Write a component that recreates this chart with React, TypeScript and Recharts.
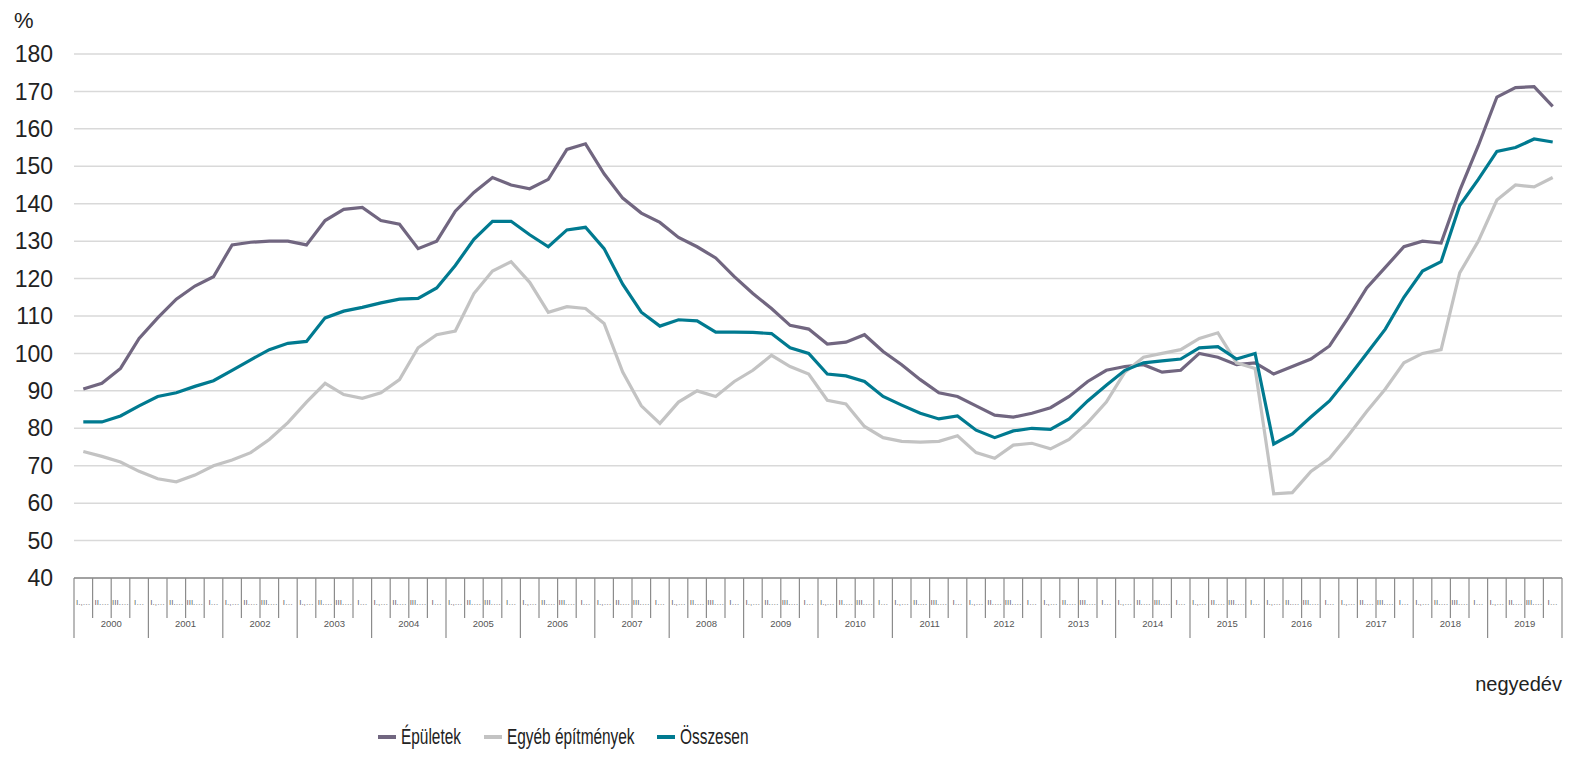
import React from 'react';
import { LineChart, Line, XAxis, YAxis, CartesianGrid, Legend } from 'recharts';

const years = ['2000', '2001', '2002', '2003', '2004', '2005', '2006', '2007', '2008', '2009', '2010', '2011', '2012', '2013', '2014', '2015', '2016', '2017', '2018', '2019'];
const quarterLabels = ['I.,…', 'II.…', 'III.…', 'I…'];
const yTicks = [40, 50, 60, 70, 80, 90, 100, 110, 120, 130, 140, 150, 160, 170, 180];
const seriesOrder = ['Épületek', 'Egyéb építmények', 'Összesen'];

const epuletek = [
  90.5, 92, 96, 104,
  109.5, 114.5, 118, 120.5,
  129, 129.7, 130, 130,
  129, 135.5, 138.5, 139,
  135.5, 134.5, 128, 130,
  138, 143, 147, 145,
  144, 146.5, 154.5, 156,
  148, 141.5, 137.5, 135,
  131, 128.5, 125.5, 120.5,
  116, 112, 107.5, 106.5,
  102.5, 103, 105, 100.5,
  97, 93, 89.5, 88.5,
  86, 83.5, 83, 84,
  85.5, 88.5, 92.5, 95.5,
  96.5, 97, 95, 95.5,
  100, 99, 97, 97.5,
  94.5, 96.5, 98.5, 102,
  109.5, 117.5, 123, 128.5,
  130, 129.5, 143.5, 155.5,
  168.5, 171, 171.3, 166,
];

const egyeb = [
  73.8, 72.5, 71, 68.5,
  66.5, 65.7, 67.5, 70,
  71.5, 73.5, 77, 81.5,
  87, 92, 89, 88,
  89.5, 93, 101.5, 105,
  106, 116, 122, 124.5,
  119, 111, 112.5, 112,
  108, 95, 86, 81.3,
  87, 90, 88.5, 92.5,
  95.5, 99.5, 96.5, 94.5,
  87.5, 86.5, 80.5, 77.5,
  76.5, 76.3, 76.5, 78,
  73.5, 72, 75.5, 76,
  74.5, 77, 81.5, 87,
  95, 99, 100, 101,
  104, 105.5, 97.5, 96,
  62.5, 62.8, 68.5, 72,
  78, 84.5, 90.5, 97.5,
  100, 101, 121.5, 130,
  141, 145, 144.5, 147,
];

const osszesen = [
  81.7, 81.7, 83.3, 86,
  88.5, 89.5, 91.2, 92.7,
  95.5, 98.3, 101, 102.7,
  103.2, 109.5, 111.3, 112.3,
  113.5, 114.5, 114.7, 117.5,
  123.5, 130.5, 135.3, 135.3,
  131.7, 128.5, 133, 133.7,
  128, 118.5, 111, 107.3,
  109, 108.7, 105.7, 105.7,
  105.6, 105.3, 101.5, 100,
  94.5, 94, 92.5, 88.5,
  86.2, 84, 82.5, 83.3,
  79.5, 77.5, 79.3, 80,
  79.7, 82.5, 87.3, 91.5,
  95.5, 97.5, 98, 98.5,
  101.5, 101.8, 98.5, 100,
  75.8, 78.5, 83, 87.3,
  93.5, 100, 106.5, 115,
  122, 124.5, 139.5, 146.5,
  154, 155, 157.3, 156.5,
];

const data = epuletek.map((v, i) => ({
  idx: i,
  epuletek: v,
  egyeb: egyeb[i],
  osszesen: osszesen[i],
}));

const CHART_W = 1576;
const CHART_H = 758;
const MARGIN = { top: 54, right: 14, left: 14, bottom: 80 };
const Y_W = 60;
const PLOT_W = CHART_W - MARGIN.left - MARGIN.right - Y_W;
const N = epuletek.length;
const CELL = PLOT_W / N;

const COLORS = { epuletek: '#716680', egyeb: '#c3c3c3', osszesen: '#007a90' };
const FONT = '"Liberation Sans", Arial, sans-serif';
const LEGEND_FS = 22;
const NARROW_SCALE = 0.7;

let measureCtx: CanvasRenderingContext2D | null = null;
function textWidth(s: string): number {
  if (typeof document === 'undefined') return s.length * LEGEND_FS * 0.5;
  if (!measureCtx) measureCtx = document.createElement('canvas').getContext('2d');
  if (!measureCtx) return s.length * LEGEND_FS * 0.5;
  measureCtx.font = `${LEGEND_FS}px "Liberation Sans", Arial, sans-serif`;
  return measureCtx.measureText(s).width;
}

const XTick = (props: any) => {
  const { x, y, payload } = props;
  const i = payload.value as number;
  const q = i % 4;
  const left = x - CELL / 2;
  const right = x + CELL / 2;
  const lineColor = '#8c8c8c';
  return (
    <g>
      <line x1={left} y1={y} x2={left} y2={q === 0 ? y + 60 : y + 40} stroke={lineColor} strokeWidth={1.2} />
      {i === N - 1 && <line x1={right} y1={y} x2={right} y2={y + 60} stroke={lineColor} strokeWidth={1.2} />}
      <text x={x} y={y + 27} textAnchor="middle" fontSize={8} fill="#666" fontFamily={FONT}>
        {quarterLabels[q]}
      </text>
      {q === 1 && (
        <text x={right} y={y + 49} textAnchor="middle" fontSize={9.5} fill="#555" fontFamily={FONT}>
          {years[Math.floor(i / 4)]}
        </text>
      )}
    </g>
  );
};

const LegendContent = (props: any) => {
  const payload = [...(props.payload || [])].sort(
    (a: any, b: any) => seriesOrder.indexOf(a.value) - seriesOrder.indexOf(b.value)
  );
  return (
    <div style={{ display: 'flex', alignItems: 'center', fontFamily: FONT, fontSize: LEGEND_FS, color: '#222', whiteSpace: 'nowrap' }}>
      {payload.map((p: any, k: number) => {
        const w = textWidth(p.value) * NARROW_SCALE;
        return (
          <div key={k} style={{ display: 'flex', alignItems: 'center', marginRight: 23 }}>
            <span style={{ display: 'inline-block', width: 18, height: 4, background: p.color, marginRight: 5 }} />
            <span style={{ display: 'inline-block', width: w, overflow: 'visible' }}>
              <span style={{ display: 'inline-block', transform: `scaleX(${NARROW_SCALE})`, transformOrigin: 'left center' }}>
                {p.value}
              </span>
            </span>
          </div>
        );
      })}
    </div>
  );
};

export default function App() {
  return (
    <div style={{ position: 'absolute', left: 0, top: 0, width: CHART_W, height: CHART_H, background: '#fff' }}>
      <LineChart width={CHART_W} height={CHART_H} data={data} margin={MARGIN}>
        <CartesianGrid horizontal vertical={false} stroke="#d9d9d9" strokeWidth={1.5} />
        <XAxis
          dataKey="idx"
          type="category"
          interval={0}
          height={100}
          padding={{ left: CELL / 2, right: CELL / 2 }}
          axisLine={{ stroke: '#8c8c8c', strokeWidth: 1.5 }}
          tickLine={false}
          tickSize={0}
          tickMargin={0}
          tick={<XTick />}
          label={(p: any) => (
            <text x={1562} y={691} textAnchor="end" fontSize={20} fill="#222" fontFamily={FONT}>
              negyedév
            </text>
          )}
        />
        <YAxis
          width={Y_W}
          domain={[40, 180]}
          ticks={yTicks}
          interval={0}
          axisLine={false}
          tickLine={false}
          tickSize={6}
          tickMargin={15}
          tick={{ fontSize: 23, fill: '#222', fontFamily: FONT }}
          label={(p: any) => (
            <text x={14} y={28} fontSize={22} fill="#222" fontFamily={FONT}>
              %
            </text>
          )}
        />
        <Legend
          layout="horizontal"
          verticalAlign="middle"
          align="center"
          wrapperStyle={{ top: 724, left: 378, width: 'auto' }}
          content={<LegendContent />}
        />
        <Line type="linear" dataKey="epuletek" name="Épületek" stroke={COLORS.epuletek} strokeWidth={3.2} dot={false} isAnimationActive={false} />
        <Line type="linear" dataKey="egyeb" name="Egyéb építmények" stroke={COLORS.egyeb} strokeWidth={3.2} dot={false} isAnimationActive={false} />
        <Line type="linear" dataKey="osszesen" name="Összesen" stroke={COLORS.osszesen} strokeWidth={3.2} dot={false} isAnimationActive={false} />
      </LineChart>
    </div>
  );
}
